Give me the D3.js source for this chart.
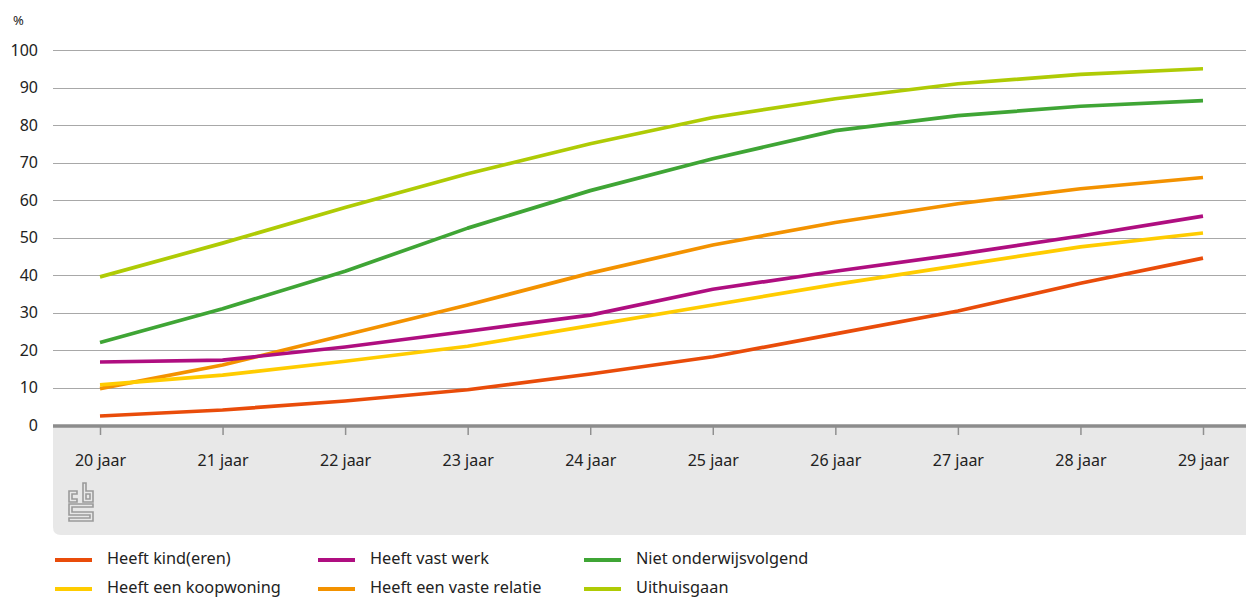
<!DOCTYPE html>
<html>
<head>
<meta charset="utf-8">
<script src="https://cdn.jsdelivr.net/npm/d3@7"></script>
<style>
	body { margin: 0; background: #fff; }
	svg { display: block; font-family: "Noto Sans", "DejaVu Sans", sans-serif; }
	.tick-label { font-size: 16px; fill: #222; }
	.legend-label { font-size: 16.3px; fill: #222; }
</style>
</head>
<body>
<svg id="chart" width="1246" height="599"></svg>
<script>
const ages = ["20 jaar", "21 jaar", "22 jaar", "23 jaar", "24 jaar", "25 jaar", "26 jaar", "27 jaar", "28 jaar", "29 jaar"];
const yTicks = [0, 10, 20, 30, 40, 50, 60, 70, 80, 90, 100];

const kind = [2.4, 4.0, 6.4, 9.4, 13.6, 18.2, 24.3, 30.4, 37.8, 44.5];
const koopwoning = [10.7, 13.3, 17.0, 21.0, 26.5, 32.0, 37.5, 42.5, 47.5, 51.2];
const vastWerk = [16.8, 17.3, 20.8, 25.0, 29.3, 36.2, 41.0, 45.5, 50.4, 55.7];
const vasteRelatie = [9.7, 16.0, 24.0, 32.0, 40.5, 48.0, 54.0, 59.0, 63.0, 66.0];
const nietOnderwijs = [22.0, 31.0, 41.0, 52.5, 62.5, 71.0, 78.5, 82.5, 85.0, 86.5];
const uithuis = [39.5, 48.5, 58.0, 67.0, 75.0, 82.0, 87.0, 91.0, 93.5, 95.0];

const series = [
	{ name: "Heeft kind(eren)", values: kind, color: "#e94c0a" },
	{ name: "Heeft een koopwoning", values: koopwoning, color: "#ffcc00" },
	{ name: "Heeft vast werk", values: vastWerk, color: "#af0e80" },
	{ name: "Heeft een vaste relatie", values: vasteRelatie, color: "#f39200" },
	{ name: "Niet onderwijsvolgend", values: nietOnderwijs, color: "#3fa535" },
	{ name: "Uithuisgaan", values: uithuis, color: "#afcb05" }
];

// draw order in the picture: light green, green, orange, purple, yellow, red on top
const drawOrder = [5, 4, 3, 2, 1, 0];
// legend layout: columns of two
const legendOrder = [
	{ s: 0, col: 0, row: 0 }, { s: 1, col: 0, row: 1 },
	{ s: 2, col: 1, row: 0 }, { s: 3, col: 1, row: 1 },
	{ s: 4, col: 2, row: 0 }, { s: 5, col: 2, row: 1 }
];

const svg = d3.select("#chart");
const plotLeft = 53, plotRight = 1246, plotTop = 50, plotBottom = 425;

const x = d3.scalePoint().domain(ages).range([100, 1203]);
const y = d3.scaleLinear().domain([0, 100]).range([plotBottom, plotTop]);

// grey panel under the axis
svg.append("path")
	.attr("d", `M${plotLeft},${plotBottom} H${plotRight} V535 H${plotLeft + 8} Q${plotLeft},535 ${plotLeft},527 Z`)
	.attr("fill", "#e8e8e8");

// gridlines
svg.append("g")
	.selectAll("line")
	.data(yTicks.filter(d => d > 0))
	.join("line")
	.attr("x1", plotLeft)
	.attr("x2", plotRight)
	.attr("y1", d => Math.round(y(d)) + 0.5)
	.attr("y2", d => Math.round(y(d)) + 0.5)
	.attr("stroke", "#a8a8a8")
	.attr("stroke-width", 1);

// y labels
svg.append("g")
	.selectAll("text")
	.data(yTicks)
	.join("text")
	.attr("class", "tick-label")
	.attr("x", 38)
	.attr("y", d => y(d))
	.attr("dy", "0.35em")
	.attr("text-anchor", "end")
	.text(d => d);

svg.append("text")
	.attr("class", "tick-label")
	.attr("x", 13)
	.attr("y", 25)
	.style("font-size", "13px")
	.text("%");

// x axis
const xAxis = svg.append("g")
	.attr("transform", `translate(0,${plotBottom})`)
	.call(d3.axisBottom(x).tickSize(10).tickPadding(20));
xAxis.select(".domain").remove();
xAxis.selectAll(".tick line").attr("stroke", "#909090").attr("stroke-width", 1.5);
xAxis.selectAll(".tick text")
	.attr("class", "tick-label")
	.attr("fill", "#222")
	.style("font-family", null)
	.attr("font-size", null);
xAxis.attr("font-size", null).attr("font-family", null);

svg.append("line")
	.attr("x1", plotLeft)
	.attr("x2", plotRight)
	.attr("y1", plotBottom + 1)
	.attr("y2", plotBottom + 1)
	.attr("stroke", "#8c8c8c")
	.attr("stroke-width", 3.5);

// lines
const line = d3.line()
	.x((d, i) => x(ages[i]))
	.y(d => y(d));

svg.append("g")
	.selectAll("path")
	.data(drawOrder.map(i => series[i]))
	.join("path")
	.attr("d", d => line(d.values))
	.attr("fill", "none")
	.attr("stroke", d => d.color)
	.attr("stroke-width", 3.7)
	.attr("stroke-linejoin", "round");

// cbs logo
const logo = svg.append("g")
	.attr("transform", "translate(68,482)")
	.attr("fill", "none")
	.attr("stroke", "#9a9a9a")
	.attr("stroke-width", 1.6);
logo.append("path").attr("d", "M1,9 H9 V12 H4 V17 H9 V20 H1 Z");
logo.append("path").attr("d", "M15,1 H18 V9 H25 V20 H15 Z M18,12 V17 H22 V12 Z");
logo.append("path").attr("d", "M1,22 H25 V25 H4 V30 H25 V39 H1 V36 H22 V33 H1 Z");

// legend
const legendCols = [55, 318, 584];
const legendRows = [560, 589];
const legend = svg.append("g")
	.selectAll("g")
	.data(legendOrder)
	.join("g")
	.attr("transform", d => `translate(${legendCols[d.col]},${legendRows[d.row]})`);

legend.append("line")
	.attr("x1", 0)
	.attr("x2", 37)
	.attr("y1", 0)
	.attr("y2", 0)
	.attr("stroke", d => series[d.s].color)
	.attr("stroke-width", 4);

legend.append("text")
	.attr("class", "legend-label")
	.attr("x", 52)
	.attr("y", -2)
	.attr("dy", "0.35em")
	.text(d => series[d.s].name);
</script>
</body>
</html>
